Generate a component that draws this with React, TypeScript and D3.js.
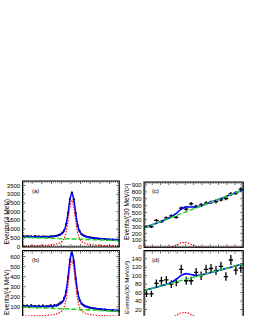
import React from "react";
import * as d3 from "d3";

// ---------------- data ----------------
const AB_MASS_RANGE: [number, number] = [3.0, 3.2];
const AB_BIN = 0.004;
const CD_MASS_RANGE: [number, number] = [1.6, 2.2];
const CD_BIN = 0.03;

const countsA = [
  590, 560, 600, 570, 585, 555, 590, 560, 575, 545, 580, 560, 570, 545, 575, 580, 590, 610, 650, 700,
  790, 930, 1290, 1920, 2720, 3090, 2700, 1900, 1220, 880, 700, 640, 590, 550, 530, 505, 495, 470, 470, 445,
  440, 420, 420, 400, 405, 385, 395, 375, 380, 370,
];
const signalA = [
  40, 40, 42, 43, 45, 47, 49, 52, 55, 58, 62, 67, 73, 80, 90, 102, 118, 140, 170, 220,
  300, 450, 800, 1450, 2250, 2650, 2250, 1450, 800, 450, 300, 220, 170, 140, 118, 102, 90, 80, 73, 67,
  62, 58, 55, 52, 49, 47, 45, 43, 42, 40,
];
const bkgEndsA = [530, 340];

const countsB = [
  110, 105, 112, 98, 115, 102, 108, 95, 110, 100, 112, 96, 108, 104, 115, 100, 118, 112, 125, 140,
  150, 190, 250, 390, 560, 630, 545, 380, 240, 165, 130, 115, 105, 100, 92, 90, 85, 82, 80, 75,
  78, 70, 72, 66, 68, 62, 64, 60, 62, 58,
];
const signalB = [
  9, 9, 9, 9, 10, 10, 10, 11, 12, 12, 13, 14, 16, 17, 19, 22, 25, 30, 36, 47,
  64, 96, 170, 310, 480, 565, 480, 310, 170, 96, 64, 47, 36, 30, 25, 22, 19, 17, 16, 14,
  13, 12, 12, 11, 10, 10, 10, 9, 9, 9,
];
const bkgEndsB = [100, 55];

const countsC = [300, 295, 390, 370, 425, 455, 432, 565, 552, 628, 590, 614, 638, 652, 660, 686, 705, 772, 782, 840];
const signalC = [0, 0, 0, 0, 1, 8, 30, 65, 70, 40, 12, 2, 0, 0, 0, 0, 0, 0, 0, 0];
const bkgEndsC = [280, 830];

const countsD = [57, 57, 82, 88, 90, 80, 84, 115, 88, 88, 108, 100, 115, 117, 112, 122, 98, 137, 113, 118];
const signalD = [0, 0, 0, 0, 0.3, 1.5, 6, 12, 13, 8, 2.5, 0.5, 0, 0, 0, 0, 0, 0, 0, 0];
const bkgEndsD = [65, 128];

const yTicksA = [0, 500, 1000, 1500, 2000, 2500, 3000, 3500];
const yTicksB = [100, 200, 300, 400, 500, 600];
const yTicksC = [0, 100, 200, 300, 400, 500, 600, 700, 800, 900];
const yTicksD = [20, 40, 60, 80, 100, 120, 140];

const panelLetters = ["(a)", "(b)", "(c)", "(d)"];
const yTitleAB = "Events/(4 MeV)";
const yTitleCD = "Events/(30 MeV/c²)";

// ---------------- layout ----------------
const FONT = "'Liberation Sans', Arial, Helvetica, sans-serif";
const BLUE = "#0000ff";
const GREEN = "#22d622";
const RED = "#ff0000";

type Cfg = {
  id: string;
  counts: number[];
  signal: number[];
  bkgEnds: number[];
  range: [number, number];
  bin: number;
  yTicks: number[];
  yMax: number;
  yMinor: number;
  xMajor: number;
  xMinor: number;
  x0: number;
  x1: number;
  yTop: number;
  yZero: number;
  frameBottom: number;
  letter: string;
  letterPos: [number, number];
  title: string;
  titlePos: [number, number];
  titleSize: number;
  style: "dots" | "crosses";
};

const panels: Cfg[] = [
  {
    id: "a", counts: countsA, signal: signalA, bkgEnds: bkgEndsA, range: AB_MASS_RANGE, bin: AB_BIN,
    yTicks: yTicksA, yMax: 3760, yMinor: 100, xMajor: 0.02, xMinor: 0.004,
    x0: 22.5, x1: 119.3, yTop: 181, yZero: 246.5, frameBottom: 247,
    letter: panelLetters[0], letterPos: [32, 193], title: yTitleAB, titlePos: [8.5, 199], titleSize: 6.6, style: "dots",
  },
  {
    id: "b", counts: countsB, signal: signalB, bkgEnds: bkgEndsB, range: AB_MASS_RANGE, bin: AB_BIN,
    yTicks: yTicksB, yMax: 660, yMinor: 20, xMajor: 0.02, xMinor: 0.004,
    x0: 22.5, x1: 119.3, yTop: 250.5, yZero: 316.9, frameBottom: 340,
    letter: panelLetters[1], letterPos: [32, 262], title: yTitleAB, titlePos: [8.5, 269.5], titleSize: 6.6, style: "dots",
  },
  {
    id: "c", counts: countsC, signal: signalC, bkgEnds: bkgEndsC, range: CD_MASS_RANGE, bin: CD_BIN,
    yTicks: yTicksC, yMax: 943, yMinor: 20, xMajor: 0.05, xMinor: 0.01,
    x0: 144, x1: 243.3, yTop: 182, yZero: 247.3, frameBottom: 247.3,
    letter: panelLetters[2], letterPos: [152, 193], title: yTitleCD, titlePos: [128.5, 183.5], titleSize: 6.6, style: "crosses",
  },
  {
    id: "d", counts: countsD, signal: signalD, bkgEnds: bkgEndsD, range: CD_MASS_RANGE, bin: CD_BIN,
    yTicks: yTicksD, yMax: 159.5, yMinor: 4, xMajor: 0.05, xMinor: 0.01,
    x0: 144, x1: 243.3, yTop: 250.5, yZero: 318, frameBottom: 340,
    letter: panelLetters[3], letterPos: [152, 262], title: yTitleCD, titlePos: [128.5, 261], titleSize: 6.2, style: "crosses",
  },
];

function Panel({ cfg }: { cfg: Cfg }) {
  const x = d3.scaleLinear().domain(cfg.range).range([cfg.x0, cfg.x1]);
  const y = d3.scaleLinear().domain([0, cfg.yMax]).range([cfg.yZero, cfg.yTop]);
  const n = cfg.counts.length;
  const centers = d3.range(n).map((i) => cfg.range[0] + (i + 0.5) * cfg.bin);
  const bkg = d3.scaleLinear().domain(cfg.range).range(cfg.bkgEnds);

  const sigPts: [number, number][] = [
    [cfg.range[0], cfg.signal[0]],
    ...centers.map((c, i) => [c, cfg.signal[i]] as [number, number]),
    [cfg.range[1], cfg.signal[n - 1]],
  ];
  const fitPts: [number, number][] = sigPts.map(([m, s]) => [m, s + bkg(m)]);
  const bkgPts: [number, number][] = [
    [cfg.range[0], bkg(cfg.range[0])],
    [cfg.range[1], bkg(cfg.range[1])],
  ];
  const line = d3
    .line<[number, number]>()
    .x((d) => x(d[0]))
    .y((d) => y(d[1]))
    .curve(d3.curveMonotoneX);

  const clipId = `clip-${cfg.id}`;
  const frameH = cfg.frameBottom - cfg.yTop;
  const visibleBottom = Math.min(cfg.frameBottom, 316);

  const nMinorX = Math.round((cfg.range[1] - cfg.range[0]) / cfg.xMinor);
  const perMajor = Math.round(cfg.xMajor / cfg.xMinor);
  const xTickEls: JSX.Element[] = [];
  for (let k = 1; k < nMinorX; k++) {
    const m = cfg.range[0] + k * cfg.xMinor;
    const len = k % perMajor === 0 ? 3 : 1.6;
    const px = x(m);
    xTickEls.push(
      <line key={`t${k}`} x1={px} x2={px} y1={cfg.yTop} y2={cfg.yTop + len} stroke="#000" strokeWidth={0.6} />
    );
    if (cfg.frameBottom < 316) {
      xTickEls.push(
        <line key={`b${k}`} x1={px} x2={px} y1={cfg.frameBottom} y2={cfg.frameBottom - len} stroke="#000" strokeWidth={0.6} />
      );
    }
  }

  const yTickEls: JSX.Element[] = [];
  const nMinorY = Math.floor(cfg.yMax / cfg.yMinor);
  const majorStep = cfg.yTicks.length > 1 ? cfg.yTicks[1] - cfg.yTicks[0] : cfg.yMinor * 5;
  for (let k = 0; k <= nMinorY; k++) {
    const v = k * cfg.yMinor;
    const py = y(v);
    if (py < cfg.yTop + 0.5 || py > visibleBottom) continue;
    const isMajor = Math.abs(v / majorStep - Math.round(v / majorStep)) < 1e-6;
    const len = isMajor ? 3 : 1.6;
    yTickEls.push(
      <line key={`l${k}`} x1={cfg.x0} x2={cfg.x0 + len} y1={py} y2={py} stroke="#000" strokeWidth={0.6} />,
      <line key={`r${k}`} x1={cfg.x1} x2={cfg.x1 - len} y1={py} y2={py} stroke="#000" strokeWidth={0.6} />
    );
  }

  return (
    <g>
      <defs>
        <clipPath id={clipId}>
          <rect x={cfg.x0} y={cfg.yTop} width={cfg.x1 - cfg.x0} height={frameH} />
        </clipPath>
      </defs>

      <g clipPath={`url(#${clipId})`}>
        {cfg.style === "dots"
          ? cfg.counts.map((c, i) => {
              const err = Math.sqrt(c);
              return (
                <g key={i}>
                  <line x1={x(centers[i])} x2={x(centers[i])} y1={y(c - err)} y2={y(c + err)} stroke="#000" strokeWidth={0.8} />
                  <circle cx={x(centers[i])} cy={y(c)} r={1.15} fill="#000" />
                </g>
              );
            })
          : cfg.counts.map((c, i) => {
              const err = Math.sqrt(c);
              const xl = x(centers[i] - cfg.bin / 2);
              const xr = x(centers[i] + cfg.bin / 2);
              return (
                <g key={i}>
                  <line x1={x(centers[i])} x2={x(centers[i])} y1={y(c - err)} y2={y(c + err)} stroke="#000" strokeWidth={1.3} />
                  <line x1={xl + 0.3} x2={xr - 0.3} y1={y(c)} y2={y(c)} stroke="#000" strokeWidth={1.3} />
                </g>
              );
            })}
        <path d={line(fitPts) || ""} fill="none" stroke={BLUE} strokeWidth={1.6} />
        <path d={line(bkgPts) || ""} fill="none" stroke={GREEN} strokeWidth={1.5} strokeDasharray="5,2" />
        <path d={line(sigPts) || ""} fill="none" stroke={RED} strokeWidth={1.2} strokeDasharray="1.4,1.4" />
      </g>

      <rect x={cfg.x0} y={cfg.yTop} width={cfg.x1 - cfg.x0} height={frameH} fill="none" stroke="#000" strokeWidth={1} />
      {xTickEls}
      {yTickEls}

      {cfg.yTicks.map((v) => (
        <text
          key={v}
          x={cfg.x0 - 2.3}
          y={y(v)}
          dy="0.35em"
          textAnchor="end"
          fontFamily={FONT}
          fontSize={6}
          fill="#000"
        >
          {v}
        </text>
      ))}

      <text x={cfg.letterPos[0]} y={cfg.letterPos[1]} fontFamily={FONT} fontSize={6} fill="#000">
        {cfg.letter}
      </text>

      <text
        transform={`translate(${cfg.titlePos[0]},${cfg.titlePos[1]}) rotate(-90)`}
        textAnchor="end"
        fontFamily={FONT}
        fontSize={cfg.titleSize}
        fill="#000"
      >
        {cfg.title}
      </text>
    </g>
  );
}

export default function App() {
  return (
    <svg
      width={269}
      height={316}
      viewBox="0 0 269 316"
      style={{ position: "absolute", left: 0, top: 0, background: "#fff" }}
    >
      <rect x={0} y={0} width={269} height={316} fill="#fff" />
      {panels.map((p) => (
        <Panel key={p.id} cfg={p} />
      ))}
    </svg>
  );
}
